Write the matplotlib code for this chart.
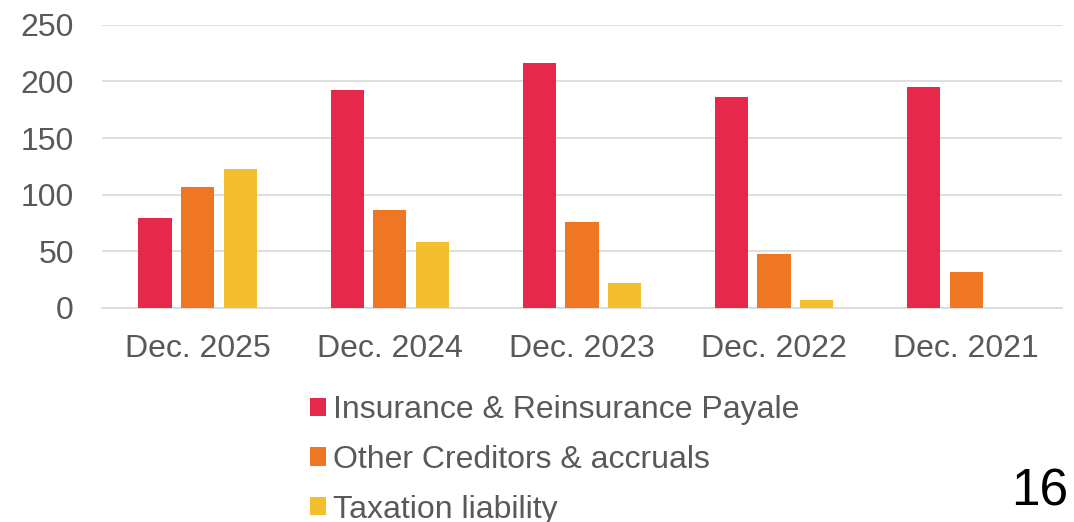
import numpy as np
import matplotlib.pyplot as plt

# data
years = ['Dec. 2025', 'Dec. 2024', 'Dec. 2023', 'Dec. 2022', 'Dec. 2021']
insurance_payable = [79.5, 192, 216.5, 186.5, 195.3]
other_creditors = [107, 86.2, 75.6, 47.6, 31.8]
taxation = [122.6, 58.5, 22, 6.8, 0]
series_names = ['Insurance & Reinsurance Payale', 'Other Creditors & accruals', 'Taxation liability']
colors = ['#E6294B', '#EF7623', '#F4BE2F']
page_number = '16'

plt.rcParams['font.family'] = ['Liberation Sans', 'DejaVu Sans']
txt_color = '#595959'

fig = plt.figure(figsize=(10.74, 5.22), dpi=100)
ax = fig.add_axes([0.0947, 0.410, 0.8943, 0.5427])

x = np.arange(len(years))
width = 0.173
step = 0.222
for i, (vals, name, c) in enumerate(zip([insurance_payable, other_creditors, taxation], series_names, colors)):
    ax.bar(x + (i - 1) * step, vals, width, color=c, label=name, zorder=3)

ax.set_xlim(-0.5, len(years) - 0.5)
ax.set_ylim(0, 250)
ax.set_yticks([0, 50, 100, 150, 200, 250])
ax.set_xticks(x)
ax.set_xticklabels(years)
ax.yaxis.grid(True, color='#D9D9D9', linewidth=1.2, zorder=0)
for s in ['top', 'right', 'left']:
    ax.spines[s].set_visible(False)
ax.spines['bottom'].set_color('#D9D9D9')
ax.spines['bottom'].set_linewidth(1.2)
ax.tick_params(axis='both', length=0, labelsize=23, labelcolor=txt_color)
ax.tick_params(axis='y', pad=20)
ax.tick_params(axis='x', pad=19)

leg = fig.legend(loc='upper left', bbox_to_anchor=(310 / 1074, 1 - 395 / 522),
                 frameon=False, fontsize=23, handlelength=0.5, handleheight=0.5,
                 handletextpad=0.22, labelspacing=0.62, borderpad=0, borderaxespad=0)
for t in leg.get_texts():
    t.set_color(txt_color)

fig.text(1068 / 1074, 1 - 506 / 522, page_number, fontsize=37, ha='right', va='baseline', color='black')

fig.savefig('out.png', dpi=100)
